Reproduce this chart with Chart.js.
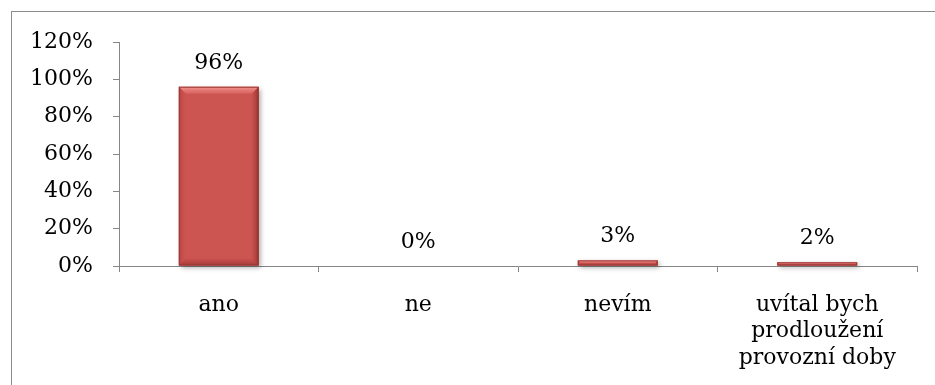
<!DOCTYPE html>
<html>
<head>
<meta charset="utf-8">
<script src="https://cdn.jsdelivr.net/npm/chart.js@4/dist/chart.umd.min.js"></script>
<style>
  html, body { margin: 0; padding: 0; background: #fff; }
  #wrap { position: relative; width: 935px; height: 385px; }
</style>
</head>
<body>
<div id="wrap"><canvas id="c" width="935" height="385"></canvas></div>
<script>
// Survey answers and their shares (percent)
const categories = ['ano', 'ne', 'nevím', ['uvítal bych', 'prodloužení', 'provozní doby']];
const shares = [96, 0, 3, 2];
const yTicks = [0, 20, 40, 60, 80, 100, 120];

const FONT = '"DejaVu Serif", "Liberation Serif", serif';
const AXIS = '#868686';

// Frame around the chart object
const framePlugin = {
  id: 'frame',
  beforeDraw(chart) {
    const ctx = chart.ctx;
    ctx.save();
    ctx.strokeStyle = '#8c8c8c';
    ctx.lineWidth = 1;
    ctx.strokeRect(11.5, 11.5, 1200, 1200);
    ctx.restore();
  }
};

// Bevelled look for the bars plus a soft shadow
const bevelPlugin = {
  id: 'bevel',
  beforeDatasetsDraw(chart) {
    const ctx = chart.ctx;
    const meta = chart.getDatasetMeta(0);
    meta.data.forEach((bar) => {
      const p = bar.getProps(['x', 'y', 'base', 'width'], true);
      const t = Math.min(p.y, p.base), b = Math.max(p.y, p.base);
      if (b - t < 0.5) return;
      ctx.save();
      ctx.shadowColor = 'rgba(0,0,0,0.35)';
      ctx.shadowBlur = 5;
      ctx.shadowOffsetX = 2;
      ctx.shadowOffsetY = 2;
      ctx.fillStyle = '#CC5451';
      ctx.fillRect(p.x - p.width / 2, t, p.width, b - t);
      ctx.restore();
    });
  },
  afterDatasetsDraw(chart) {
    const ctx = chart.ctx;
    const meta = chart.getDatasetMeta(0);
    meta.data.forEach((bar) => {
      const p = bar.getProps(['x', 'y', 'base', 'width'], true);
      const l = p.x - p.width / 2, r = p.x + p.width / 2;
      const t = Math.min(p.y, p.base), b = Math.max(p.y, p.base);
      const h = b - t;
      if (h < 0.5) return;
      const e = Math.min(7, h / 2, p.width / 2);
      ctx.save();
      // top highlight
      let g = ctx.createLinearGradient(0, t, 0, t + e);
      g.addColorStop(0, 'rgba(255,170,165,0.75)');
      g.addColorStop(1, 'rgba(255,150,145,0.2)');
      ctx.fillStyle = g;
      ctx.beginPath();
      ctx.moveTo(l, t); ctx.lineTo(r, t); ctx.lineTo(r - e, t + e); ctx.lineTo(l + e, t + e); ctx.closePath(); ctx.fill();
      // left edge
      g = ctx.createLinearGradient(l, 0, l + e, 0);
      g.addColorStop(0, 'rgba(150,45,42,0.45)');
      g.addColorStop(1, 'rgba(200,80,78,0.05)');
      ctx.fillStyle = g;
      ctx.beginPath();
      ctx.moveTo(l, t); ctx.lineTo(l + e, t + e); ctx.lineTo(l + e, b - e); ctx.lineTo(l, b); ctx.closePath(); ctx.fill();
      // right edge
      g = ctx.createLinearGradient(r, 0, r - e, 0);
      g.addColorStop(0, 'rgba(110,25,23,0.55)');
      g.addColorStop(1, 'rgba(150,40,38,0.05)');
      ctx.fillStyle = g;
      ctx.beginPath();
      ctx.moveTo(r, t); ctx.lineTo(r - e, t + e); ctx.lineTo(r - e, b - e); ctx.lineTo(r, b); ctx.closePath(); ctx.fill();
      // bottom edge
      g = ctx.createLinearGradient(0, b, 0, b - e);
      g.addColorStop(0, 'rgba(110,25,23,0.45)');
      g.addColorStop(1, 'rgba(150,40,38,0.05)');
      ctx.fillStyle = g;
      ctx.beginPath();
      ctx.moveTo(l, b); ctx.lineTo(l + e, b - e); ctx.lineTo(r - e, b - e); ctx.lineTo(r, b); ctx.closePath(); ctx.fill();
      ctx.strokeStyle = 'rgba(150,55,52,0.9)';
      ctx.lineWidth = 1;
      ctx.strokeRect(l + 0.5, t + 0.5, p.width - 1, Math.max(h - 1, 0.5));
      ctx.restore();
    });
  }
};

// Value labels above each bar
const valueLabels = {
  id: 'valueLabels',
  afterDatasetsDraw(chart) {
    const ctx = chart.ctx;
    const meta = chart.getDatasetMeta(0);
    ctx.save();
    ctx.font = '22px ' + FONT;
    ctx.fillStyle = '#000';
    ctx.textAlign = 'center';
    ctx.textBaseline = 'middle';
    meta.data.forEach((bar, i) => {
      ctx.fillText(shares[i] + '%', bar.x, bar.y - 24);
    });
    ctx.restore();
  }
};

new Chart(document.getElementById('c'), {
  type: 'bar',
  data: {
    labels: categories,
    datasets: [{
      data: shares,
      backgroundColor: '#CC5451',
      borderWidth: 0,
      barPercentage: 0.4,
      categoryPercentage: 1.0
    }]
  },
  options: {
    responsive: false,
    animation: false,
    devicePixelRatio: 1,
    layout: { padding: { left: 0, top: 42, right: 18, bottom: 0 } },
    plugins: { legend: { display: false }, tooltip: { enabled: false } },
    scales: {
      x: {
        offset: true,
        grid: { offset: true, drawOnChartArea: false, drawTicks: true, tickLength: 6, color: AXIS },
        border: { color: AXIS, width: 1 },
        ticks: { font: { family: FONT, size: 22, lineHeight: 1.2 }, color: '#000', padding: 20, maxRotation: 0 },
        afterFit(s) { s.height = 119; }
      },
      y: {
        min: 0, max: 120,
        afterBuildTicks(s) { s.ticks = yTicks.map(v => ({ value: v })); },
        grid: { drawOnChartArea: false, drawTicks: true, tickLength: 6, color: AXIS },
        border: { color: AXIS, width: 1 },
        ticks: {
          font: { family: FONT, size: 22 }, color: '#000', padding: 20,
          callback: (v) => v + '%'
        },
        afterFit(s) { s.width = 119; }
      }
    }
  },
  plugins: [framePlugin, bevelPlugin, valueLabels]
});
</script>
</body>
</html>
